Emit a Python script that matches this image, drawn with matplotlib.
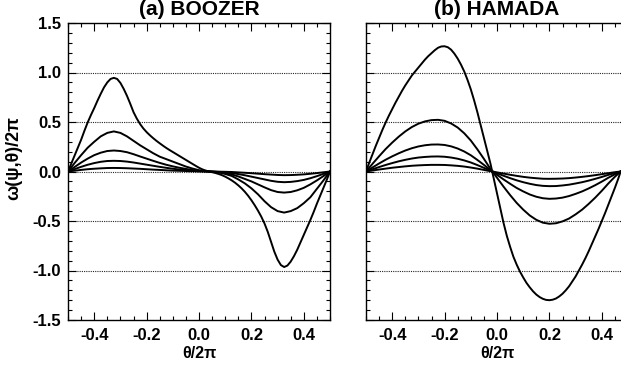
import matplotlib
matplotlib.use("Agg")
import matplotlib.pyplot as plt
from matplotlib.ticker import MultipleLocator

plt.rcParams['font.family'] = ['Liberation Sans', 'DejaVu Sans']
plt.rcParams['font.weight'] = 'bold'

# ---------------- data: (a) BOOZER ----------------
# fine grid (step 0.0125) for the largest curve
theta_a_fine = [-0.5, -0.4875, -0.475, -0.4625, -0.45, -0.4375, -0.425, -0.4125, -0.4, -0.3875,
                -0.375, -0.3625, -0.35, -0.3375, -0.325, -0.3125, -0.3, -0.2875, -0.275, -0.2625,
                -0.25, -0.2375, -0.225, -0.2125, -0.2, -0.1875, -0.175, -0.1625, -0.15, -0.1375,
                -0.125, -0.1125, -0.1, -0.0875, -0.075, -0.0625, -0.05, -0.0375, -0.025, -0.0125,
                0.0, 0.0125, 0.025, 0.0375, 0.05, 0.0625, 0.075, 0.0875, 0.1, 0.1125,
                0.125, 0.1375, 0.15, 0.1625, 0.175, 0.1875, 0.2, 0.2125, 0.225, 0.2375,
                0.25, 0.2625, 0.275, 0.2875, 0.3, 0.3125, 0.325, 0.3375, 0.35, 0.3625,
                0.375, 0.3875, 0.4, 0.4125, 0.425, 0.4375, 0.45, 0.4625, 0.475, 0.4875, 0.5]
boozer_1 = [0, 0.08, 0.16, 0.24, 0.32, 0.41, 0.495, 0.57, 0.64, 0.715,
            0.785, 0.85, 0.90, 0.935, 0.946, 0.935, 0.895, 0.835, 0.765, 0.685,
            0.60, 0.535, 0.48, 0.435, 0.398, 0.366, 0.337, 0.31, 0.285, 0.261,
            0.238, 0.217, 0.197, 0.177, 0.157, 0.137, 0.117, 0.097, 0.077, 0.057,
            0.038, 0.022, 0.01, 0.001, -0.007, -0.015, -0.025, -0.037, -0.052, -0.07,
            -0.09, -0.113, -0.14, -0.17, -0.205, -0.245, -0.29, -0.34, -0.395, -0.455,
            -0.525, -0.61, -0.71, -0.81, -0.89, -0.945, -0.965, -0.95, -0.91, -0.855,
            -0.79, -0.715, -0.64, -0.565, -0.49, -0.41, -0.325, -0.245, -0.165, -0.085, 0]

theta_a = [-0.5, -0.475, -0.45, -0.425, -0.4, -0.375, -0.35, -0.325, -0.3, -0.275,
           -0.25, -0.225, -0.2, -0.175, -0.15, -0.125, -0.1, -0.075, -0.05, -0.025,
           0.0, 0.02, 0.04, 0.06, 0.08, 0.1, 0.125, 0.15, 0.175, 0.2,
           0.225, 0.25, 0.275, 0.3, 0.325, 0.35, 0.375, 0.4, 0.425, 0.45, 0.475, 0.5]
boozer_2 = [0, 0.085, 0.165, 0.24, 0.30, 0.355, 0.39, 0.405, 0.39, 0.355,
            0.31, 0.265, 0.225, 0.185, 0.15, 0.125, 0.10, 0.075, 0.05, 0.03,
            0.013, 0.005, 0, -0.005, -0.012, -0.025, -0.045, -0.08, -0.12, -0.17,
            -0.23, -0.30, -0.36, -0.40, -0.415, -0.40, -0.37, -0.32, -0.26, -0.175, -0.09, 0]
boozer_3 = [0, 0.045, 0.09, 0.13, 0.165, 0.19, 0.207, 0.212, 0.207, 0.195,
            0.175, 0.152, 0.13, 0.108, 0.087, 0.068, 0.052, 0.038, 0.026, 0.015,
            0.007, 0.003, 0, -0.003, -0.008, -0.016, -0.03, -0.05, -0.075, -0.10,
            -0.13, -0.16, -0.188, -0.207, -0.213, -0.207, -0.19, -0.165, -0.13, -0.09, -0.046, 0]
boozer_4 = [0, 0.024, 0.047, 0.068, 0.085, 0.098, 0.106, 0.108, 0.106, 0.10,
            0.091, 0.08, 0.069, 0.058, 0.047, 0.037, 0.028, 0.02, 0.014, 0.008,
            0.004, 0.002, 0, -0.002, -0.005, -0.009, -0.016, -0.026, -0.038, -0.052,
            -0.066, -0.08, -0.094, -0.104, -0.108, -0.105, -0.097, -0.085, -0.068, -0.047, -0.024, 0]
boozer_5 = [0, 0.008, 0.016, 0.023, 0.028, 0.032, 0.035, 0.036, 0.035, 0.033,
            0.03, 0.027, 0.023, 0.019, 0.016, 0.012, 0.009, 0.007, 0.005, 0.003,
            0.001, 0.0005, 0, -0.001, -0.002, -0.003, -0.005, -0.009, -0.013, -0.017,
            -0.022, -0.027, -0.031, -0.035, -0.037, -0.036, -0.033, -0.029, -0.023, -0.016, -0.008, 0]

# ---------------- data: (b) HAMADA ----------------
theta_b_fine = [-0.5, -0.4875, -0.475, -0.4625, -0.45, -0.4375, -0.425, -0.4125, -0.4, -0.3875,
                -0.375, -0.3625, -0.35, -0.3375, -0.325, -0.3125, -0.3, -0.2875, -0.275, -0.2625,
                -0.25, -0.2375, -0.225, -0.2125, -0.2, -0.1875, -0.175, -0.1625, -0.15, -0.1375,
                -0.125, -0.1125, -0.1, -0.0875, -0.075, -0.0625, -0.05, -0.0375, -0.025, -0.0125,
                0.0, 0.0125, 0.025, 0.0375, 0.05, 0.0625, 0.075, 0.0875, 0.1, 0.1125,
                0.125, 0.1375, 0.15, 0.1625, 0.175, 0.1875, 0.2, 0.2125, 0.225, 0.2375,
                0.25, 0.2625, 0.275, 0.2875, 0.3, 0.3125, 0.325, 0.3375, 0.35, 0.3625,
                0.375, 0.3875, 0.4, 0.4125, 0.425, 0.4375, 0.45, 0.4625, 0.472]
hamada_1 = [0, 0.09, 0.175, 0.26, 0.34, 0.42, 0.495, 0.565, 0.63, 0.695,
            0.755, 0.815, 0.87, 0.92, 0.97, 1.01, 1.05, 1.09, 1.13, 1.165,
            1.195, 1.225, 1.25, 1.263, 1.265, 1.255, 1.23, 1.19, 1.14, 1.08,
            1.01, 0.925, 0.83, 0.72, 0.60, 0.47, 0.34, 0.21, 0.08, -0.07,
            -0.22, -0.37, -0.52, -0.65, -0.76, -0.86, -0.94, -1.01, -1.07, -1.125,
            -1.17, -1.21, -1.243, -1.268, -1.286, -1.297, -1.30, -1.295, -1.283, -1.262,
            -1.235, -1.2, -1.16, -1.11, -1.06, -1.0, -0.94, -0.875, -0.805, -0.73,
            -0.655, -0.58, -0.5, -0.42, -0.335, -0.25, -0.165, -0.075, 0]

theta_b = [-0.5, -0.475, -0.45, -0.425, -0.4, -0.375, -0.35, -0.325, -0.3, -0.275,
           -0.25, -0.225, -0.2, -0.175, -0.15, -0.125, -0.1, -0.075, -0.05, -0.025,
           -0.017,
           0.0, 0.025, 0.05, 0.075, 0.1, 0.125, 0.15, 0.175, 0.2, 0.225,
           0.25, 0.275, 0.3, 0.325, 0.35, 0.375, 0.4, 0.425, 0.45, 0.472]
hamada_2 = [0, 0.078, 0.154, 0.227, 0.292, 0.352, 0.405, 0.449, 0.483, 0.506,
            0.519, 0.522, 0.512, 0.485, 0.444, 0.386, 0.313, 0.224, 0.128, 0.026,
            0,
            -0.063, -0.153, -0.238, -0.317, -0.385, -0.444, -0.488, -0.517, -0.528, -0.523,
            -0.504, -0.475, -0.433, -0.385, -0.327, -0.264, -0.195, -0.121, -0.053, 0]
hamada_3 = [0, 0.041, 0.081, 0.119, 0.153, 0.184, 0.212, 0.235, 0.253, 0.265,
            0.272, 0.273, 0.268, 0.254, 0.232, 0.202, 0.164, 0.117, 0.067, 0.014,
            0,
            -0.033, -0.080, -0.124, -0.166, -0.201, -0.232, -0.255, -0.270, -0.276, -0.273,
            -0.264, -0.248, -0.226, -0.201, -0.171, -0.138, -0.102, -0.063, -0.028, 0]
hamada_4 = [0, 0.023, 0.045, 0.066, 0.085, 0.103, 0.118, 0.131, 0.141, 0.147,
            0.151, 0.152, 0.149, 0.141, 0.129, 0.112, 0.091, 0.065, 0.037, 0.008,
            0,
            -0.018, -0.043, -0.067, -0.089, -0.108, -0.124, -0.137, -0.145, -0.148, -0.147,
            -0.141, -0.133, -0.121, -0.108, -0.092, -0.074, -0.055, -0.034, -0.015, 0]
hamada_5 = [0, 0.010, 0.020, 0.029, 0.038, 0.045, 0.052, 0.058, 0.062, 0.065,
            0.067, 0.067, 0.066, 0.062, 0.057, 0.050, 0.040, 0.029, 0.016, 0.003,
            0,
            -0.009, -0.021, -0.033, -0.044, -0.054, -0.062, -0.068, -0.073, -0.074, -0.073,
            -0.071, -0.067, -0.061, -0.054, -0.046, -0.037, -0.027, -0.017, -0.007, 0]

grid_levels = [-1.0, -0.5, 0.0, 0.5, 1.0]
x_ticks = [-0.4, -0.2, 0.0, 0.2, 0.4]
y_ticks = [-1.5, -1.0, -0.5, 0.0, 0.5, 1.0, 1.5]

W, H = 621, 370
fig = plt.figure(figsize=(W / 100, H / 100), dpi=100)
axL = fig.add_axes([68 / W, 50 / H, 262 / W, 297 / H])
axR = fig.add_axes([366 / W, 50 / H, 262 / W, 297 / H])


def style(ax, title, show_ylabels):
    ax.set_xlim(-0.5, 0.5)
    ax.set_ylim(-1.5, 1.5)
    for lev in grid_levels:
        ax.axhline(lev, color='0.15', lw=0.8, ls=(0, (1, 1)), zorder=1)
    ax.set_xticks(x_ticks)
    ax.set_xticklabels([f"{v:.1f}" for v in x_ticks])
    ax.set_yticks(y_ticks)
    ax.set_yticklabels([f"{v:.1f}" for v in y_ticks])
    ax.xaxis.set_minor_locator(MultipleLocator(0.05))
    ax.yaxis.set_minor_locator(MultipleLocator(0.1))
    ax.tick_params(which='both', direction='in', top=True, right=True,
                   width=0.8, labelsize=12)
    ax.tick_params(which='major', length=6)
    ax.tick_params(which='minor', length=3)
    ax.tick_params(axis='x', pad=6)
    ax.tick_params(axis='y', pad=5)
    if not show_ylabels:
        ax.tick_params(axis='y', labelleft=False)
    for lab in ax.get_xticklabels() + ax.get_yticklabels():
        lab.set_fontweight('bold')
    for sp in ax.spines.values():
        sp.set_linewidth(1.0)
    ax.set_title(title, fontsize=15, fontweight='bold', pad=6)
    ax.set_xlabel('θ/2π', fontsize=11.5, fontweight='bold', labelpad=2)


axL.plot(theta_a_fine, boozer_1, color='black', lw=1.4, zorder=3)
for ys in [boozer_2, boozer_3, boozer_4, boozer_5]:
    axL.plot(theta_a, ys, color='black', lw=1.4, zorder=3)
axR.plot(theta_b_fine, hamada_1, color='black', lw=1.4, zorder=3)
for ys in [hamada_2, hamada_3, hamada_4, hamada_5]:
    axR.plot(theta_b, ys, color='black', lw=1.4, zorder=3)

style(axL, '(a) BOOZER', True)
style(axR, '(b) HAMADA', False)
axL.set_ylabel('ω(ψ,θ)/2π', fontsize=13, fontweight='bold')
axL.yaxis.set_label_coords(-0.176, 0.545)

fig.savefig('out.png', dpi=100)
